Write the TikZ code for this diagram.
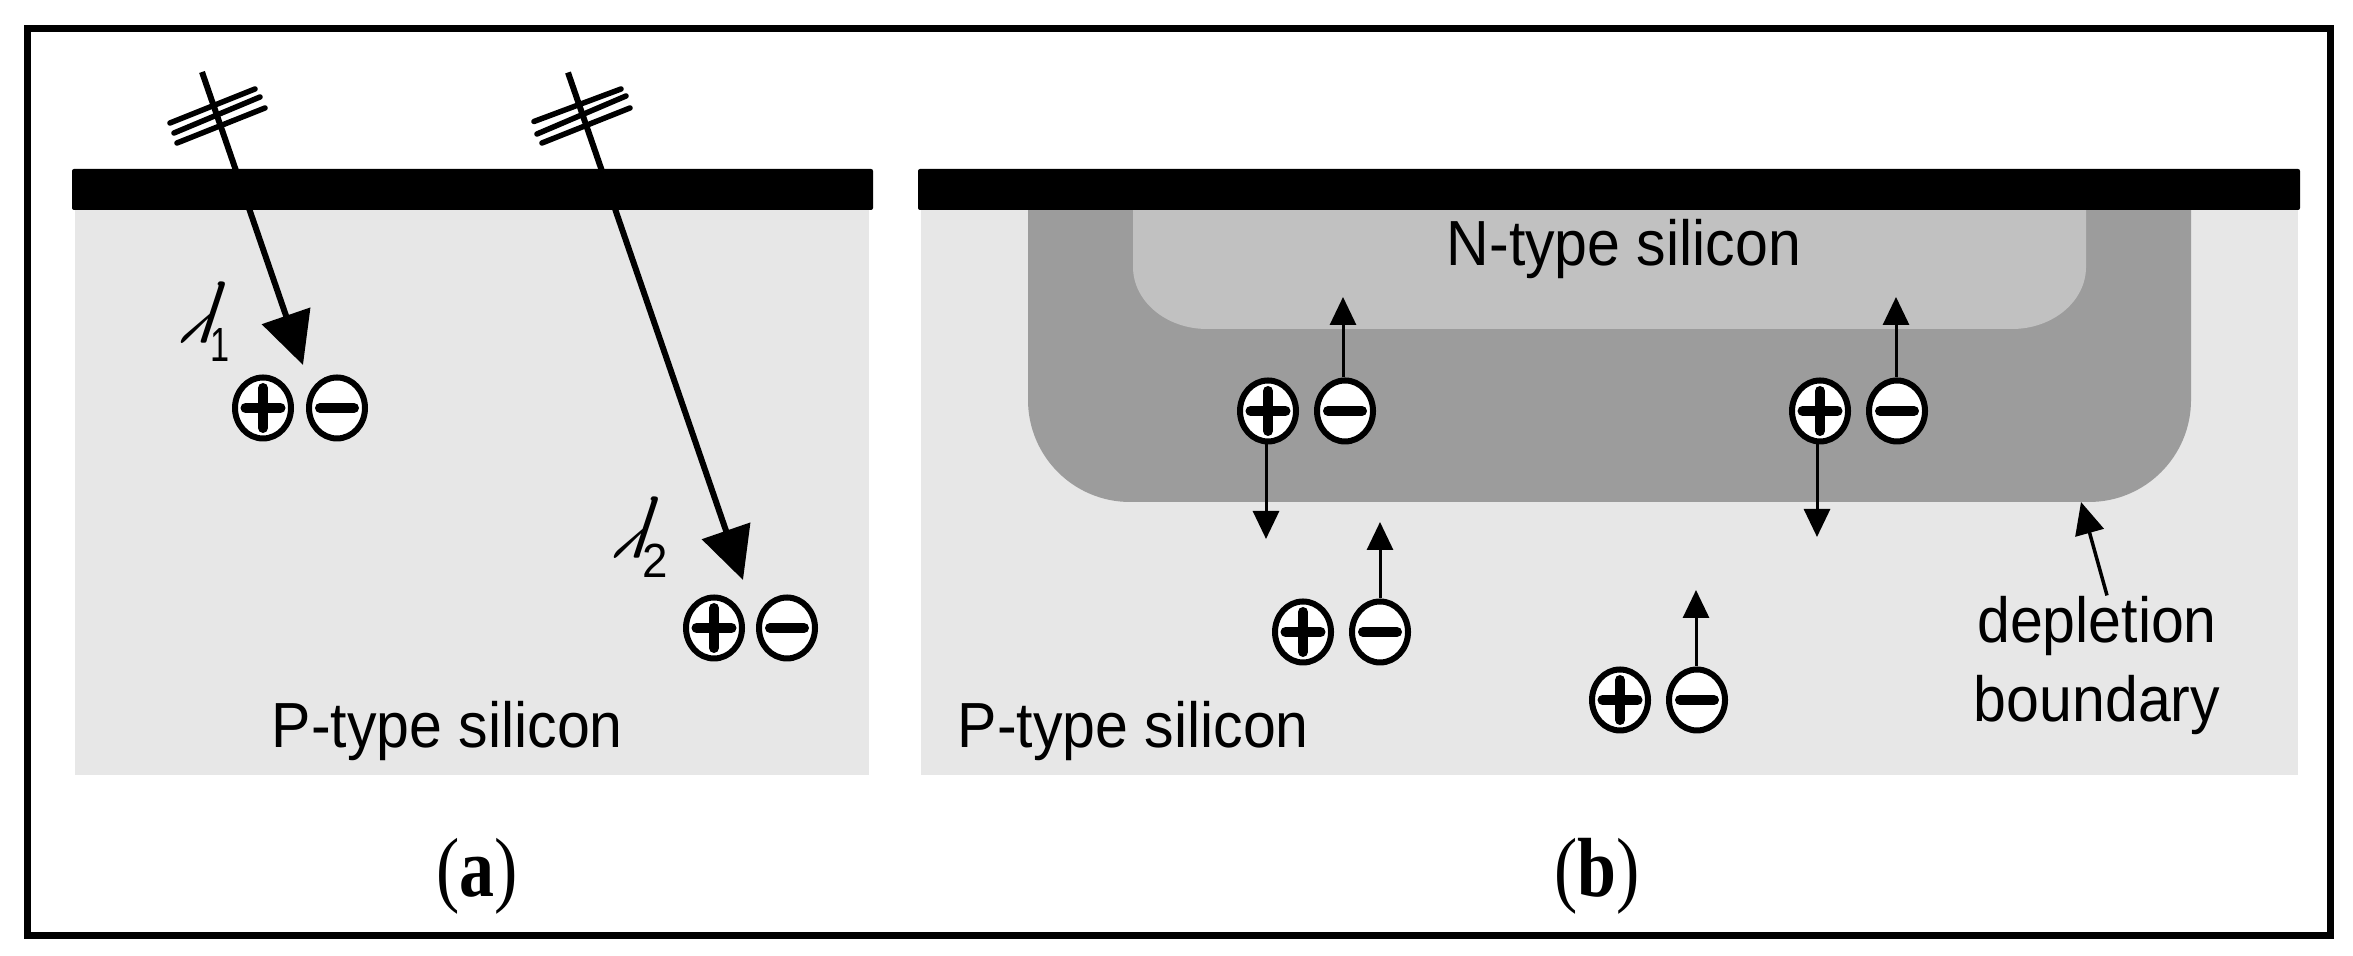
\documentclass[tikz,border=0pt]{standalone}
\usepackage{fontspec}
\setmainfont{Liberation Sans}
\newfontfamily\capfont{Liberation Serif}
\usetikzlibrary{arrows.meta, shapes.geometric}
\definecolor{psilicon}{gray}{0.905}
\definecolor{depletion}{gray}{0.61}
\definecolor{nsilicon}{gray}{0.755}
\tikzset{
    carrier/.style={ellipse, draw=black, fill=white, line width=0.06cm, inner sep=0,
        minimum width=0.56cm, minimum height=0.61cm},
    sign/.style={black, line width=0.1cm, line cap=round},
    hole/.style={carrier, path picture={
        \draw[sign] ([xshift=-0.175cm]path picture bounding box.center) -- ([xshift=0.175cm]path picture bounding box.center);
        \draw[sign] ([yshift=-0.2cm]path picture bounding box.center) -- ([yshift=0.2cm]path picture bounding box.center);}},
    electron/.style={carrier, path picture={
        \draw[sign] ([xshift=-0.17cm]path picture bounding box.center) -- ([xshift=0.17cm]path picture bounding box.center);}},
    drift/.style={black, line width=0.03cm, -{Triangle[length=0.28cm, width=0.26cm]}},
    photon/.style={black, line width=0.06cm, -{Triangle[length=0.52cm, width=0.5cm]}},
    wave/.style={black, line width=0.055cm, line cap=round},
    silicon/.style={font=\fontsize{16.8}{20}\selectfont, yscale=1.08, inner sep=0},
    wavelength/.style={font=\boldmath\fontsize{24}{28}\selectfont, xscale=0.5, xslant=1.1, inner sep=0},
    order/.style={font=\fontsize{13}{15}\selectfont, yscale=1.05, inner sep=0},
    panel/.style={font=\capfont\fontsize{19.9}{24}\selectfont, yscale=1.2, inner sep=0},
}
\begin{document}
\begin{tikzpicture}
    \useasboundingbox (0, 0) rectangle (23.53, 9.56);
    \fill[white] (0, 0) rectangle (23.53, 9.56);
    \draw[black, line width=0.07cm] (0.275, 0.205) rectangle (23.305, 9.27);

    % silicon
    \fill[psilicon] (0.75, 1.81) rectangle (8.69, 7.5);
    \fill[psilicon] (9.21, 1.81) rectangle (22.98, 7.5);
    \fill[depletion] (10.28, 7.5) -- (10.28, 5.56) arc[start angle=180, end angle=270, radius=1.02]
        -- (20.89, 4.54) arc[start angle=270, end angle=360, radius=1.02] -- (21.91, 7.5) -- cycle;
    \fill[nsilicon] (11.33, 7.5) -- (11.33, 6.89) arc[start angle=180, end angle=270, x radius=0.74, y radius=0.62]
        -- (20.12, 6.27) arc[start angle=270, end angle=360, x radius=0.74, y radius=0.62] -- (20.86, 7.5) -- cycle;
    \fill[black, rounded corners=0.02cm] (0.72, 7.46) rectangle (8.73, 7.87);
    \fill[black, rounded corners=0.02cm] (9.18, 7.46) rectangle (23.00, 7.87);

    % incoming light
    \coordinate (light1) at (2.02, 8.84);
    \coordinate (light1tip) at (3.03, 5.91);
    \coordinate (light2) at (5.68, 8.835);
    \coordinate (light2tip) at (7.43, 3.76);
    \draw[photon] (light1) to (light1tip);
    \draw[photon] (light2) to (light2tip);
    \draw[wave] (1.70, 8.33) to (2.55, 8.67);
    \draw[wave] (1.74, 8.23) to (2.60, 8.59);
    \draw[wave] (1.77, 8.13) to (2.65, 8.48);
    \draw[wave] (5.34, 8.345) to (6.21, 8.67);
    \draw[wave] (5.37, 8.22) to (6.26, 8.60);
    \draw[wave] (5.42, 8.13) to (6.30, 8.48);
    \node[wavelength] (lambda1) at (2.10, 6.44) {$\lambda$};
    \node[order, xscale=0.75] (order1) at (2.20, 6.11) {1};
    \node[wavelength] (lambda2) at (6.43, 4.29) {$\lambda$};
    \node[order] (order2) at (6.55, 3.95) {2};

    % carriers
    \node[hole] (a1p) at (2.63, 5.48) {};
    \node[electron] (a1m) at (3.37, 5.48) {};
    \node[hole] (a2p) at (7.14, 3.28) {};
    \node[electron] (a2m) at (7.87, 3.28) {};
    \node[hole] (b1p) at (12.68, 5.45) {};
    \node[electron] (b1m) at (13.45, 5.45) {};
    \node[hole] (b2p) at (13.03, 3.24) {};
    \node[electron] (b2m) at (13.80, 3.24) {};
    \node[hole] (b3p) at (18.20, 5.45) {};
    \node[electron] (b3m) at (18.97, 5.45) {};
    \node[hole] (b4p) at (16.20, 2.56) {};
    \node[electron] (b4m) at (16.97, 2.56) {};

    \coordinate (b1mtip) at (13.43, 6.59);
    \coordinate (b1ptip) at (12.66, 4.17);
    \coordinate (b2mtip) at (13.80, 4.34);
    \coordinate (b3mtip) at (18.96, 6.59);
    \coordinate (b3ptip) at (18.17, 4.19);
    \coordinate (b4mtip) at (16.96, 3.66);
    \draw[drift] (b1m.north -| b1mtip) to (b1mtip);
    \draw[drift] (b1p.south -| b1ptip) to (b1ptip);
    \draw[drift] (b2m.north -| b2mtip) to (b2mtip);
    \draw[drift] (b3m.north -| b3mtip) to (b3mtip);
    \draw[drift] (b3p.south -| b3ptip) to (b3ptip);
    \draw[drift] (b4m.north -| b4mtip) to (b4mtip);

    % labels
    \node[silicon, anchor=base west] (ptypea) at (2.71, 2.08) {P-type silicon};
    \node[silicon, anchor=base west] (ptypeb) at (9.57, 2.08) {P-type silicon};
    \node[silicon, anchor=base west] (ntype) at (14.46, 6.90) {N-type silicon};
    \node[silicon, align=center] (boundary) at (20.97, 2.905) {depletion\\[0.03cm]boundary};
    \coordinate (boundarytip) at (20.81, 4.54);
    \draw[black, line width=0.035cm, -{Triangle[length=0.32cm, width=0.29cm]}] ([xshift=0.1cm]boundary.north) to (boundarytip);
    \node[panel, anchor=base] (capa) at (4.77, 0.59) {(\textbf{a})};
    \node[panel, anchor=base] (capb) at (15.97, 0.59) {(\textbf{b})};
\end{tikzpicture}
\end{document}
